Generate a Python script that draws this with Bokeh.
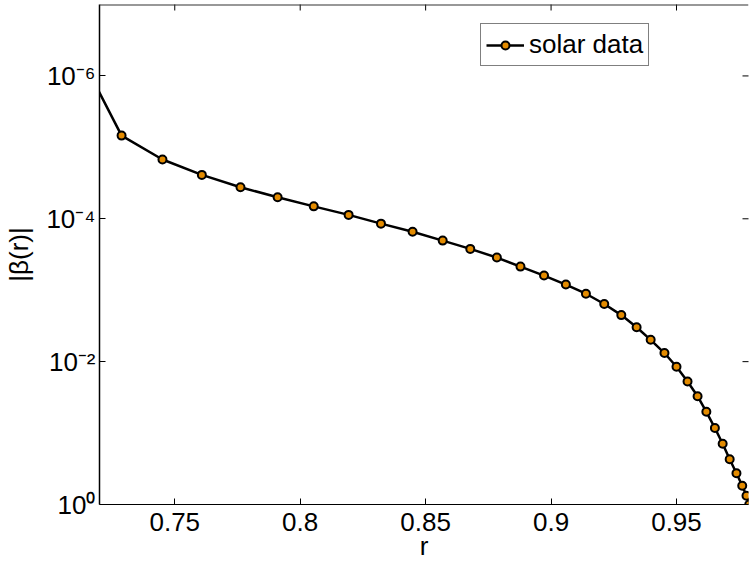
import math
from bokeh.plotting import figure
from bokeh.models import (Range1d, FixedTicker, Span,
                          ColumnDataSource, Legend, LegendItem)
from bokeh.embed import file_html
from bokeh.resources import INLINE

# radius (fraction of solar radius) and |beta(r)|
r_values = [0.7120, 0.7288, 0.7451, 0.7608, 0.7762, 0.7910, 0.8054, 0.8193,
            0.8322, 0.8448, 0.8568, 0.8678, 0.8784, 0.8878, 0.8972, 0.9059,
            0.9139, 0.9212, 0.9280, 0.9341, 0.9397, 0.9452, 0.9500, 0.9544,
            0.9584, 0.9619, 0.9653, 0.9684, 0.9712, 0.9739, 0.9762, 0.9779,
            0.9790]
beta_values = [4.86e-7, 6.85e-6, 1.48e-5, 2.43e-5, 3.62e-5, 5.00e-5, 6.70e-5,
               8.82e-5, 1.17e-4, 1.52e-4, 2.02e-4, 2.64e-4, 3.49e-4, 4.67e-4,
               6.24e-4, 8.34e-4, 1.12e-3, 1.56e-3, 2.23e-3, 3.30e-3, 4.95e-3,
               7.58e-3, 1.18e-2, 1.90e-2, 3.05e-2, 5.04e-2, 8.50e-2, 0.141,
               0.233, 0.366, 0.547, 0.753, 1.0]

x_ticks = [0.75, 0.8, 0.85, 0.9, 0.95]
y_ticks = [1.0, 1e-2, 1e-4, 1e-6]
y_tick_labels = ["10\u2070", "10\u207b\u00b2", "10\u207b\u2074", "10\u207b\u2076"]

FONT = "Liberation Sans"
FS = "26px"
ORANGE = "#e38b00"

x_start, x_end = 0.72, 0.9787
y_bottom, y_top = 1.0, 1e-7
p = figure(width=749, height=563,
           x_range=Range1d(x_start, x_end),
           y_range=Range1d(y_bottom, y_top),
           y_axis_type="log",
           output_backend="svg", toolbar_location=None,
           min_border_left=99, min_border_right=1,
           min_border_top=4, min_border_bottom=59)
p.outline_line_color = None
p.grid.visible = False
p.background_fill_color = "white"
p.border_fill_color = "white"

src = ColumnDataSource(dict(r=r_values, beta=beta_values))
line = p.line("r", "beta", source=src, line_color="black", line_width=2.5)
dots = p.scatter("r", "beta", source=src, size=8, fill_color=ORANGE,
                 line_color="black", line_width=2)

# bottom axis
xa = p.xaxis[0]
xa.ticker = FixedTicker(ticks=x_ticks)
xa.minor_tick_line_color = None
xa.major_tick_in = 6
xa.major_tick_out = 0
xa.axis_line_color = "black"
xa.major_tick_line_color = "black"
xa.major_label_text_font = FONT
xa.major_label_text_font_size = FS
xa.major_label_text_color = "black"
xa.major_label_standoff = 8
xa.axis_label = "r"
xa.axis_label_text_font = FONT
xa.axis_label_text_font_size = FS
xa.axis_label_text_font_style = "normal"
xa.axis_label_text_color = "black"
xa.axis_label_standoff = -3

# left axis with powers of ten
ya = p.yaxis[0]
ya.ticker = FixedTicker(ticks=y_ticks)
ya.minor_tick_line_color = None
ya.major_tick_in = 6
ya.major_tick_out = 0
ya.axis_line_color = "black"
ya.axis_line_width = 1.5
ya.major_tick_line_color = "black"
ya.major_label_overrides = dict(zip(y_ticks, y_tick_labels))
ya.major_label_text_font = FONT
ya.major_label_text_font_size = FS
ya.major_label_text_color = "black"
ya.major_label_standoff = 4
ya.axis_label = "|\u03b2(r)|"
ya.axis_label_text_font = FONT
ya.axis_label_text_font_size = FS
ya.axis_label_text_font_style = "normal"
ya.axis_label_text_color = "black"
ya.axis_label_standoff = 9

# top edge of the box, plus inward ticks along the top and right edges
p.add_layout(Span(location=y_top, dimension="width",
                  line_color="#333333", line_width=2))
p.scatter(x=x_ticks, y=[y_top] * len(x_ticks), marker="dash", size=12,
          angle=math.pi / 2, line_color="black", line_width=1)
p.scatter(x=[x_end] * len(y_ticks), y=y_ticks, marker="dash", size=12,
          line_color="black", line_width=1)

legend = Legend(items=[LegendItem(label="solar data", renderers=[line, dots])],
                location=(381, 438), padding=5, spacing=0,
                glyph_width=38, glyph_height=20, label_standoff=5,
                label_text_font=FONT, label_text_font_size=FS,
                label_text_color="black",
                border_line_color="black", border_line_width=1,
                background_fill_alpha=1)
p.add_layout(legend, "center")

open("out.html", "w").write(file_html(p, INLINE))
